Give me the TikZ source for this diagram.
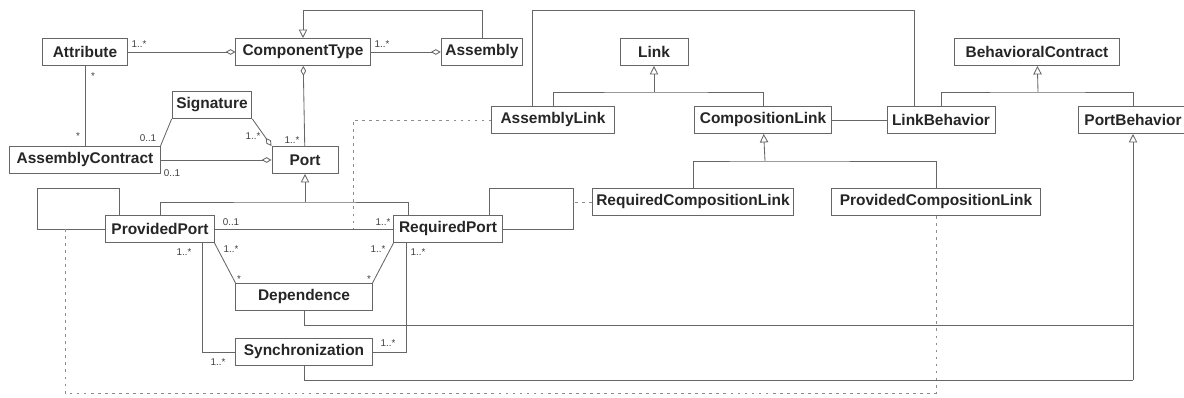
\documentclass[tikz,border=0pt]{standalone}
\usepackage{fontspec}
\setmainfont{Liberation Sans}
\usetikzlibrary{arrows.meta}
\tikzset{
  cls/.style={draw=black!60, line width=0.7pt, fill=white, text=black!85,
    font=\fontsize{11}{13}\selectfont\bfseries, inner xsep=3pt, minimum height=0.675cm},
  mult/.style={font=\fontsize{7}{8}\selectfont, text=black!75, inner sep=0.5pt},
  link/.style={draw=black!60, line width=0.6pt},
  gen/.style={link, -{Triangle[open,length=6pt,width=6pt]}},
  agg/.style={link, -{Diamond[open,length=7pt,width=4pt]}},
  gaa/.style={link, {Diamond[open,length=7pt,width=4pt]}-},
  aclass/.style={link, draw=black!45, dash pattern=on 2pt off 3pt}
}
\begin{document}
\begin{tikzpicture}[x=0.025cm,y=-0.025cm]
  \useasboundingbox (0,0) rectangle (1184,398);
  % classes
  \node[cls, minimum width=2.1cm] (Attribute) at (85,52) {Attribute};
  \node[cls, minimum width=3.35cm] (ComponentType) at (303,52) {ComponentType};
  \node[cls, minimum width=2cm] (Assembly) at (482,52) {Assembly};
  \node[cls, minimum width=1.7cm] (Link) at (654,52) {Link};
  \node[cls, minimum width=4.1cm] (BehavioralContract) at (1037,52) {BehavioralContract};
  \node[cls, minimum width=1.9cm] (Signature) at (212,105) {Signature};
  \node[cls, minimum width=3.05cm] (AssemblyLink) at (553,120) {AssemblyLink};
  \node[cls, minimum width=3.4cm] (CompositionLink) at (763,120) {CompositionLink};
  \node[cls, minimum width=2.7cm] (LinkBehavior) at (941,120) {LinkBehavior};
  \node[cls, minimum width=2.75cm] (PortBehavior) at (1133,120) {PortBehavior};
  \node[cls, minimum width=3.75cm] (AssemblyContract) at (85,160) {AssemblyContract};
  \node[cls, minimum width=1.65cm] (Port) at (305,160) {Port};
  \node[cls, minimum width=2.7cm] (ProvidedPort) at (160,229) {ProvidedPort};
  \node[cls, minimum width=2.7cm] (RequiredPort) at (448,229) {RequiredPort};
  \node[cls, minimum width=5cm] (RequiredCompositionLink) at (693,202) {RequiredCompositionLink};
  \node[cls, minimum width=5.2cm] (ProvidedCompositionLink) at (936,202) {ProvidedCompositionLink};
  \node[cls, minimum width=3.4cm] (Dependence) at (304,297) {Dependence};
  \node[cls, minimum width=3.4cm] (Synchronization) at (304,352) {Synchronization};
  % junctions
  \coordinate (linkj) at (654,92);
  \coordinate (behj) at (1038,92);
  \coordinate (compj) at (765,161);
  \coordinate (portj) at (305,202);
  \coordinate (pbj) at (1133,380);
  \coordinate (ppj) at (353,229);
  \coordinate (rloop) at (573,202);
  \coordinate (ploop) at (65,229);
  % upper part
  \draw[agg] (Attribute) -- (ComponentType);
  \draw[agg] (ComponentType) -- (Assembly);
  \draw[gen] (Assembly.north) -- ++(0,-28) -| (ComponentType.north);
  \draw[gaa] (ComponentType) -- (Port);
  \draw[link] (Attribute) -- (AssemblyContract);
  \draw[agg] (AssemblyContract) -- (Port);
  \draw[link] (Signature.south west) -- (AssemblyContract.north east);
  \draw[agg] (Signature.south east) -- (Port.north west);
  \draw[link] ([xshift=-0.525cm]AssemblyLink.north) -- ++(0,-96) -| ([xshift=-0.675cm]LinkBehavior.north);
  \draw[link] (AssemblyLink.north) |- (linkj) -| (CompositionLink.north);
  \draw[gen] (linkj) -- (Link);
  \draw[link] (LinkBehavior.north) |- (behj) -| (PortBehavior.north);
  \draw[gen] (behj) -- (BehavioralContract);
  \draw[link] (CompositionLink) -- (LinkBehavior);
  \draw[link] (RequiredCompositionLink.north) |- (compj) -| (ProvidedCompositionLink.north);
  \draw[gen] (compj) -- (CompositionLink);
  % ports
  \draw[link] (ProvidedPort.north) |- (portj) -| ([xshift=-1cm]RequiredPort.north);
  \draw[gen] (portj) -- (Port);
  \draw[link] (ProvidedPort) -- (RequiredPort);
  \draw[link] (ProvidedPort.west) -| (37,188) -| ([xshift=0.35cm]ProvidedPort.north west);
  \draw[link] (RequiredPort.east) -| (573,188) -| ([xshift=-0.325cm]RequiredPort.north east);
  \draw[aclass] (AssemblyLink) -| (ppj);
  \draw[aclass] (RequiredCompositionLink) -- (rloop);
  \draw[aclass] (ProvidedCompositionLink.south) |- (65,393) -- (ploop);
  % dependence and synchronization
  \draw[link] (ProvidedPort.south east) -- (Dependence.north west);
  \draw[link] (RequiredPort.south west) -- (Dependence.north east);
  \draw[link] ([xshift=-0.3cm]ProvidedPort.south east) |- (Synchronization.west);
  \draw[link] ([xshift=0.325cm]RequiredPort.south west) |- (Synchronization.east);
  \draw[link] (Dependence.south) |- (1133,325);
  \draw[link] (Synchronization.south) |- (pbj);
  \draw[gen] (pbj) -- (PortBehavior.south);
  % multiplicities
  \node[mult] (m1) at (139,44) {1..*};
  \node[mult] (m2) at (382,44) {1..*};
  \node[mult] (m3) at (93,76) {*};
  \node[mult] (m4) at (78,136) {*};
  \node[mult] (m5) at (148,138) {0..1};
  \node[mult] (m6) at (172,173) {0..1};
  \node[mult] (m7) at (253,136) {1..*};
  \node[mult] (m8) at (292,140) {1..*};
  \node[mult] (m9) at (231,222) {0..1};
  \node[mult] (m10) at (383,222) {1..*};
  \node[mult] (m11) at (231,249) {1..*};
  \node[mult] (m12) at (239,279) {*};
  \node[mult] (m13) at (378,249) {1..*};
  \node[mult] (m14) at (369,279) {*};
  \node[mult] (m15) at (184,252) {1..*};
  \node[mult] (m16) at (218,362) {1..*};
  \node[mult] (m17) at (418,252) {1..*};
  \node[mult] (m18) at (388,343) {1..*};
\end{tikzpicture}
\end{document}
